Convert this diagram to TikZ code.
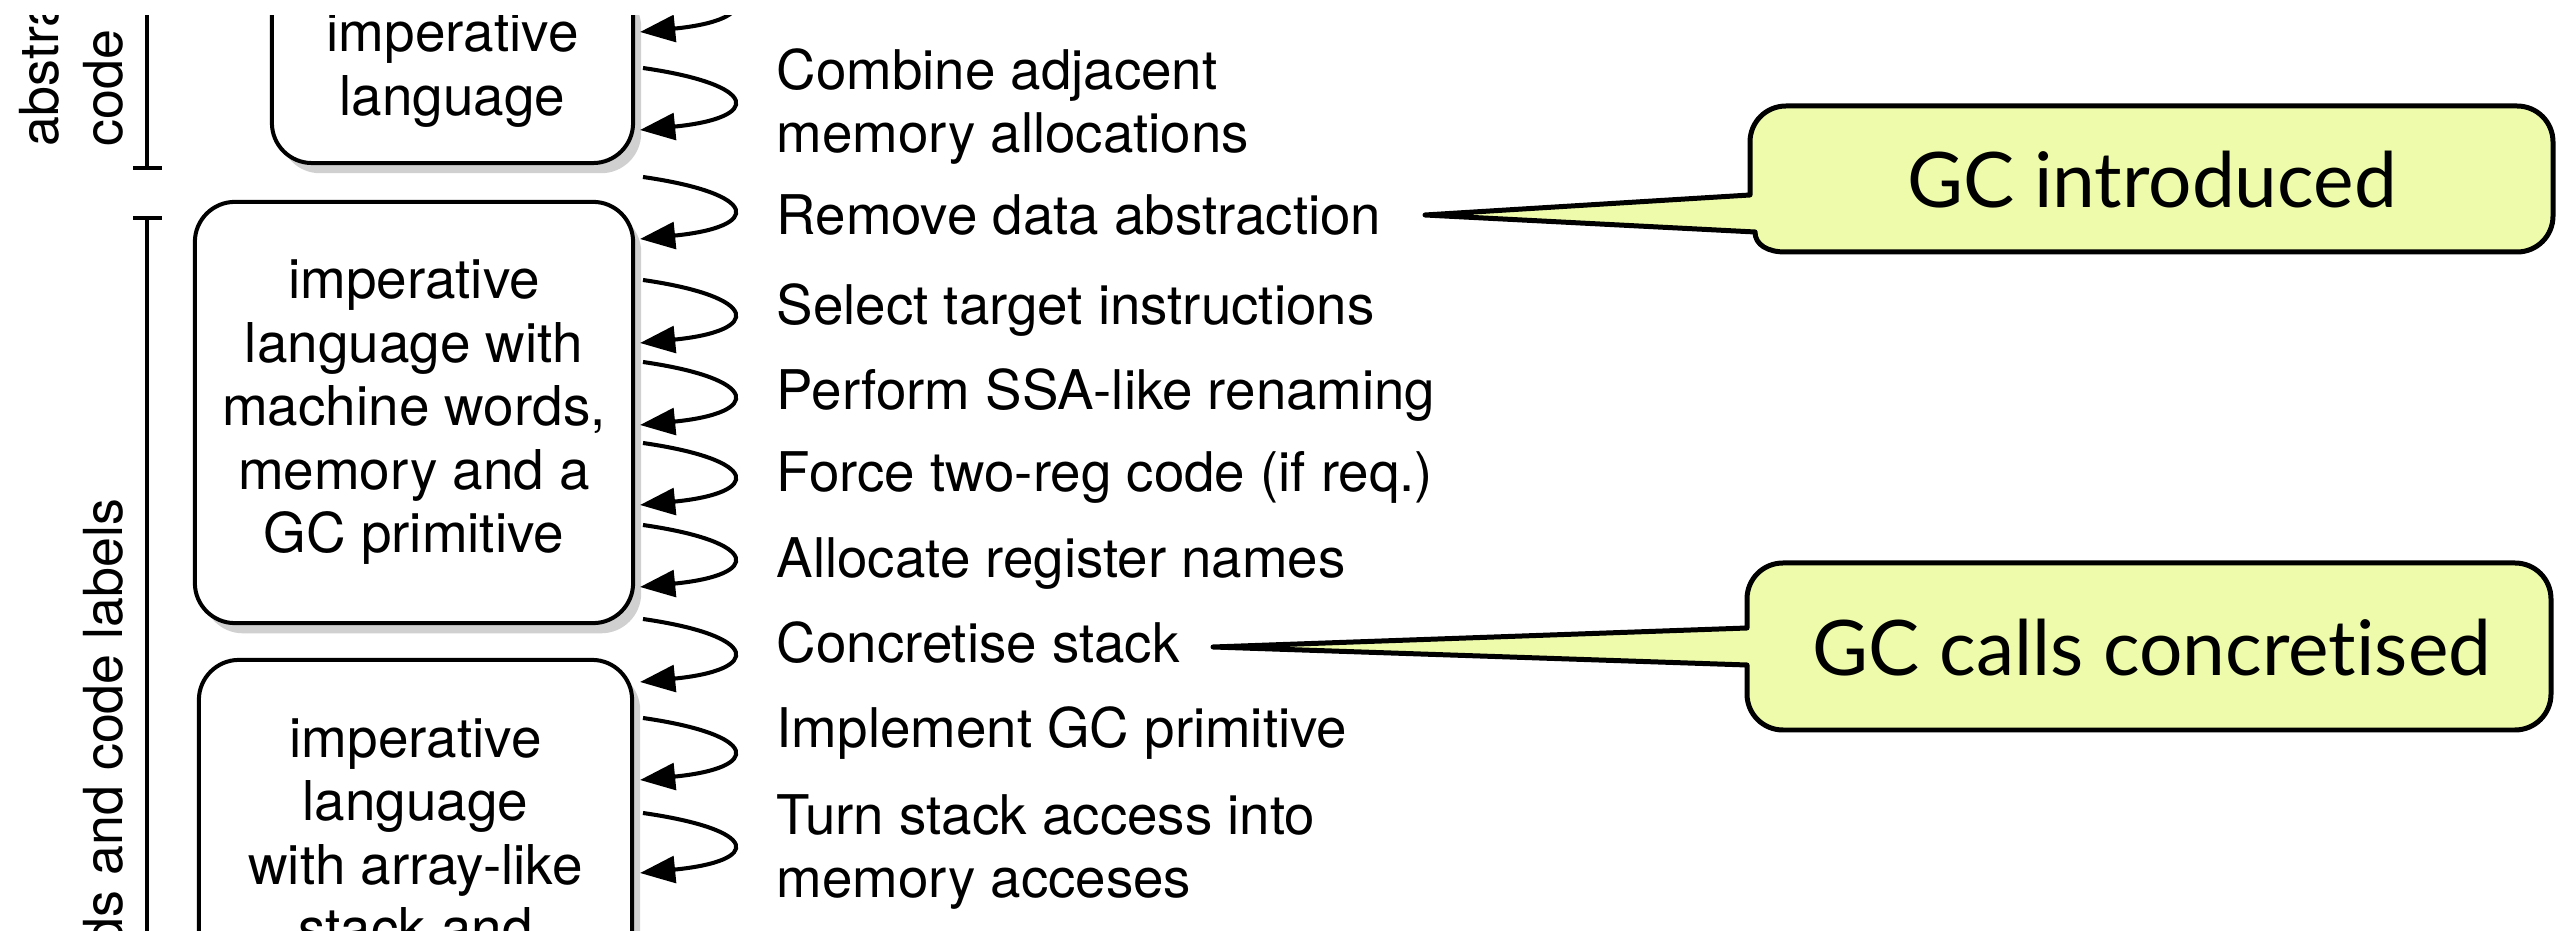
\documentclass[tikz,border=0pt]{standalone}
\usepackage{fontspec}
\setmainfont{TeX Gyre Heros}
\newfontfamily\calloutfont[Ligatures={NoCommon,NoContextual}]{Lato}
\usetikzlibrary{arrows.meta,shadows}
\definecolor{noteyellow}{HTML}{EDFBAA}
\definecolor{shadowgray}{HTML}{D0D0D0}

\begin{document}
\begin{tikzpicture}[x=0.01cm, y=-0.01cm,
  stage/.style={draw=black, line width=1.14pt, fill=white, rounded corners=11.4pt,
    align=center, inner sep=0pt,
    font=\fontsize{15.6pt}{18.07pt}\selectfont,
    general shadow={fill=shadowgray, shadow xshift=2.3pt, shadow yshift=-2.9pt}},
  passlabel/.style={anchor=base west, inner sep=0pt, font=\fontsize{15.55pt}{18pt}\selectfont},
  sidelabel/.style={rotate=90, inner sep=0pt, font=\fontsize{15.3pt}{18pt}\selectfont},
  bracket/.style={line width=1.14pt},
  loop arrow/.style={line width=1.15pt, -{Triangle[length=10pt,width=7.6pt]}},
  note/.style={draw=black, line width=1.42pt, fill=noteyellow, line join=round},
  note text/.style={anchor=base, inner sep=0pt, font=\calloutfont\fontsize{21.8pt}{26pt}\selectfont},
]
\useasboundingbox (0,0) rectangle (2569,931);
\clip (0,16) rectangle (2569,931);

% intermediate languages
\node[stage, minimum width=3.61cm, minimum height=1.86cm] (imp) at (452.5,70)
  {imperative\\language};
\node[stage, minimum width=4.38cm, minimum height=4.21cm] (machine) at (414,412.5)
  {imperative\\language with\\machine words,\\memory and a\\GC primitive};
\node[stage, minimum width=4.33cm, minimum height=3.47cm] (arraystack) at (415.5,833.5)
  {imperative\\language\\with array-like\\stack and};

% level brackets on the left
\coordinate (b1top) at (147,-20);
\coordinate (b1bot) at (147,168);
\coordinate (b1l) at (133,168);
\coordinate (b1r) at (162,168);
\draw[bracket] (b1top) -- (b1bot);
\draw[bracket] (b1l) -- (b1r);
\coordinate (b2top) at (147,218);
\coordinate (b2bot) at (147,1000);
\coordinate (b2l) at (133,218);
\coordinate (b2r) at (162,218);
\draw[bracket] (b2top) -- (b2bot);
\draw[bracket] (b2l) -- (b2r);

\node[sidelabel, anchor=base west] (absA) at (58,147) {abstract};
\node[sidelabel, anchor=base west] (absB) at (122,147) {code};
\node[sidelabel, anchor=base east] (wordsB) at (122,498) {words and code labels};

% compiler passes
\node[passlabel] (combineA) at (776,90) {Combine adjacent};
\node[passlabel] (combineB) at (776,153) {memory allocations};
\node[passlabel] (remove) at (776,235) {Remove data abstraction};
\node[passlabel] (select) at (776,325) {Select target instructions};
\node[passlabel] (ssa) at (776,410) {Perform SSA-like renaming};
\node[passlabel] (tworeg) at (776,492) {Force two-reg code (if req.)};
\node[passlabel] (alloc) at (776,578) {Allocate register names};
\node[passlabel] (concstack) at (776,663) {Concretise stack};
\node[passlabel] (implgc) at (776,748) {Implement GC primitive};
\node[passlabel] (turnA) at (776,835) {Turn stack access into};
\node[passlabel] (turnB) at (776,897) {memory acceses};

% one looping arrow per pass
\foreach \s/\e [count=\i] in {-31/32, 68/130, 177/239, 280/343, 362/425,
                              443/505, 525/587, 619/682, 718/780, 813/873} {
  \coordinate (out\i) at (643,\s);
  \coordinate (in\i) at (640,\e);
  \draw[loop arrow] (out\i) .. controls +(118,17) and +(122,-12) .. (in\i);
}

% callouts
\draw[note] (1425,215) -- (1750,195) -- (1750,142)
  .. controls +(0,-20) and +(-20,0) .. (1786,106) -- (2517,106)
  .. controls +(20,0) and +(0,-20) .. (2553,142) -- (2553,216)
  .. controls +(0,20) and +(20,0) .. (2517,252) -- (1785,252)
  .. controls +(-17,0) and +(0,13) .. (1755,232) -- cycle;
\node[note text] (gcintro) at (2152,208) {GC introduced};

\draw[note] (1213,647) -- (1747,628) -- (1747,599)
  .. controls +(0,-20) and +(-20,0) .. (1783,563) -- (2515,563)
  .. controls +(20,0) and +(0,-20) .. (2551,599) -- (2551,694)
  .. controls +(0,20) and +(20,0) .. (2515,730) -- (1783,730)
  .. controls +(-20,0) and +(0,20) .. (1747,694) -- (1747,665) -- cycle;
\node[note text] (gcconc) at (2152,676) {GC calls concretised};
\end{tikzpicture}
\end{document}
